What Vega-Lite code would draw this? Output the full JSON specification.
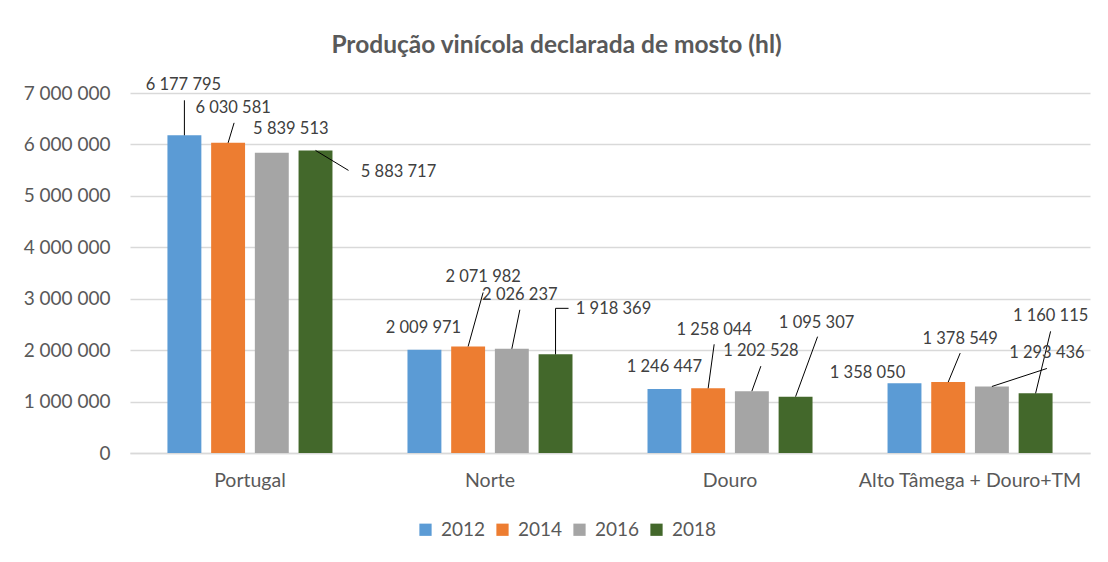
{
  "$schema": "https://vega.github.io/schema/vega-lite/v6.json",
  "width": 960,
  "height": 360,
  "autosize": "none",
  "padding": {"left": 130, "top": 93, "right": 18, "bottom": 109},
  "background": "white",
  "title": {
    "text": "Produção vinícola declarada de mosto (hl)",
    "font": "Lato",
    "fontSize": 24.5,
    "fontWeight": "bold",
    "color": "#595959",
    "anchor": "middle",
    "frame": "bounds",
    "baseline": "alphabetic",
    "offset": 0
  },
  "data": {
    "values": [
      {"region": "Portugal", "year": "2012", "value": 6177795},
      {"region": "Portugal", "year": "2014", "value": 6030581},
      {"region": "Portugal", "year": "2016", "value": 5839513},
      {"region": "Portugal", "year": "2018", "value": 5883717},
      {"region": "Norte", "year": "2012", "value": 2009971},
      {"region": "Norte", "year": "2014", "value": 2071982},
      {"region": "Norte", "year": "2016", "value": 2026237},
      {"region": "Norte", "year": "2018", "value": 1918369},
      {"region": "Douro", "year": "2012", "value": 1246447},
      {"region": "Douro", "year": "2014", "value": 1258044},
      {"region": "Douro", "year": "2016", "value": 1202528},
      {"region": "Douro", "year": "2018", "value": 1095307},
      {"region": "Alto Tâmega + Douro+TM", "year": "2012", "value": 1358050},
      {"region": "Alto Tâmega + Douro+TM", "year": "2014", "value": 1378549},
      {"region": "Alto Tâmega + Douro+TM", "year": "2016", "value": 1293436},
      {"region": "Alto Tâmega + Douro+TM", "year": "2018", "value": 1160115}
    ]
  },
  "encoding": {
    "x": {
      "field": "region",
      "type": "nominal",
      "sort": null,
      "scale": {"paddingInner": 0.3125, "paddingOuter": 0.156},
      "axis": {
        "title": null,
        "labelAngle": 0,
        "labelLimit": 0,
        "ticks": false,
        "domainColor": "#d9d9d9",
        "domainWidth": 1.3,
        "labelFont": "Lato",
        "labelFontSize": 19.5,
        "labelColor": "#595959",
        "labelPadding": 18
      }
    },
    "xOffset": {
      "field": "year",
      "type": "nominal",
      "scale": {"paddingInner": 0.224, "paddingOuter": 0}
    },
    "y": {
      "field": "value",
      "type": "quantitative",
      "scale": {"domain": [0, 7000000], "nice": false},
      "axis": {
        "title": null,
        "values": [0, 1000000, 2000000, 3000000, 4000000, 5000000, 6000000, 7000000],
        "format": ",d",
        "ticks": false,
        "domain": false,
        "gridColor": "#d9d9d9",
        "gridWidth": 1.3,
        "labelFont": "Lato",
        "labelFontSize": 19,
        "labelColor": "#595959",
        "labelPadding": 20
      }
    }
  },
  "layer": [
    {
      "mark": {"type": "bar"},
      "encoding": {
        "color": {
          "field": "year",
          "type": "nominal",
          "scale": {"domain": ["2012", "2014", "2016", "2018"], "range": ["#5B9BD5", "#ED7D31", "#A5A5A5", "#43682B"]},
          "legend": {
            "title": null,
            "orient": "none",
            "legendX": 286,
            "legendY": 427,
            "direction": "horizontal",
            "symbolType": "square",
            "symbolSize": 150,
            "symbolStrokeWidth": 0,
            "labelFont": "Lato",
            "labelFontSize": 19,
            "labelColor": "#595959",
            "columnPadding": 7,
            "labelOffset": 6
          }
        }
      }
    },
    {
      "mark": {
        "type": "rule",
        "color": "#000000",
        "strokeWidth": 1,
        "x2Offset": {"expr": "[0,6,0,33,0,15,8,0,0,6,9,22,0,12,55,15][indexof(['Portugal','Norte','Douro','Alto Tâmega + Douro+TM'], datum.region)*4 + indexof(['2012','2014','2016','2018'], datum.year)] + scale('xOffset', datum.year) + bandwidth('xOffset')/2 - bandwidth('x')/2"},
        "y2Offset": {"expr": "[-35,-20,0,20,0,-54,-39,-46,0,-44,-25,-60,0,-29,-18,-62][indexof(['Portugal','Norte','Douro','Alto Tâmega + Douro+TM'], datum.region)*4 + indexof(['2012','2014','2016','2018'], datum.year)]"}
      },
      "encoding": {
        "x2": {"field": "region"},
        "y2": {"field": "value"}
      }
    },
    {
      "transform": [{"filter": "datum.region == 'Norte' && datum.year == '2018'"}],
      "mark": {
        "type": "rule",
        "color": "#000000",
        "strokeWidth": 1,
        "yOffset": -46,
        "x2Offset": {"expr": "13 + scale('xOffset', datum.year) + bandwidth('xOffset')/2 - bandwidth('x')/2"},
        "y2Offset": -46
      },
      "encoding": {
        "x2": {"field": "region"},
        "y2": {"field": "value"}
      }
    },
    {
      "mark": {
        "type": "text",
        "font": "Lato",
        "fontSize": 16.5,
        "color": "#404040",
        "baseline": "middle",
        "dx": {"expr": "[-1,5,19,83,-1,15,8,58,0,6,9,21,-37,12,55,15][indexof(['Portugal','Norte','Douro','Alto Tâmega + Douro+TM'], datum.region)*4 + indexof(['2012','2014','2016','2018'], datum.year)]"},
        "dy": {"expr": "[-50,-35,-24,22,-22,-69,-54,-45,-22,-58,-40,-74,-10,-43,-33,-77][indexof(['Portugal','Norte','Douro','Alto Tâmega + Douro+TM'], datum.region)*4 + indexof(['2012','2014','2016','2018'], datum.year)]"}
      },
      "encoding": {"text": {"field": "value", "type": "quantitative", "format": ",d"}}
    }
  ],
  "config": {
    "locale": {"number": {"decimal": ",", "thousands": " ", "grouping": [3], "currency": ["", " €"]}},
    "view": {"stroke": null}
  }
}
